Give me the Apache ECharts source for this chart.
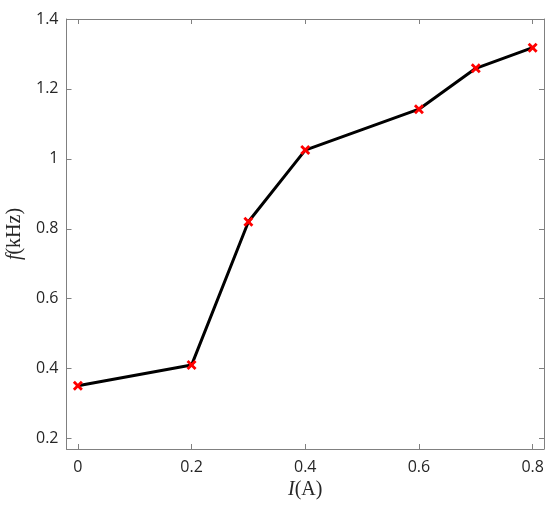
<!DOCTYPE html>
<html>
<head>
<meta charset="utf-8">
<script src="https://cdn.jsdelivr.net/npm/echarts@6/dist/echarts.min.js"></script>
<style>html,body{margin:0;padding:0;background:#fff}#c{width:555px;height:507px}</style>
</head>
<body>
<div id="c"></div>
<script>
const current = [0, 0.2, 0.3, 0.4, 0.6, 0.7, 0.8];
const freq = [0.351, 0.410, 0.820, 1.025, 1.142, 1.259, 1.318];
const xTicks = [0, 0.2, 0.4, 0.6, 0.8];
const yTicks = [0.2, 0.4, 0.6, 0.8, 1, 1.2, 1.4];
const xRange = [-0.02, 0.82];
const yRange = [0.17, 1.4];

const axisColor = '#808080';
const labelColor = '#262626';
const tickFont = 'Open Sans, Noto Sans, sans-serif';
const fmt = v => String(+v.toFixed(2));

const chart = echarts.init(document.getElementById('c'));
const xSource = current.map((x, i) => [x, freq[i]]);
const xMark = 'path://M2,0 L5,3 L8,0 L10,2 L7,5 L10,8 L8,10 L5,7 L2,10 L0,8 L3,5 L0,2 Z';

function xAx(pos, show) {
  return {
    type: 'value', position: pos, min: xRange[0], max: xRange[1],
    axisLine: { show: true, onZero: false, lineStyle: { color: axisColor, width: 1 } },
    axisTick: { show: true, inside: true, length: 5, customValues: xTicks, lineStyle: { color: axisColor } },
    axisLabel: { show: show, customValues: xTicks, formatter: fmt, color: labelColor, fontFamily: tickFont, fontSize: 16, margin: 10 },
    splitLine: { show: false },
    name: show ? '{i|I}(A)' : '',
    nameLocation: 'middle', nameGap: 30,
    nameTextStyle: { fontFamily: 'Liberation Serif, serif', fontSize: 20, color: labelColor,
      rich: { i: { fontStyle: 'italic', fontFamily: 'Liberation Serif, serif', fontSize: 20, color: labelColor } } }
  };
}
function yAx(pos, show) {
  return {
    type: 'value', position: pos, min: yRange[0], max: yRange[1],
    axisLine: { show: true, onZero: false, lineStyle: { color: axisColor, width: 1 } },
    axisTick: { show: true, inside: true, length: 5, customValues: yTicks, lineStyle: { color: axisColor } },
    axisLabel: { show: show, customValues: yTicks, formatter: fmt, color: labelColor, fontFamily: tickFont, fontSize: 16, margin: 8 },
    splitLine: { show: false },
    name: show ? '{i|f}(kHz)' : '',
    nameLocation: 'middle', nameGap: 38, nameRotate: 90,
    nameTextStyle: { fontFamily: 'Liberation Serif, serif', fontSize: 20, color: labelColor,
      rich: { i: { fontStyle: 'italic', fontFamily: 'Liberation Serif, serif', fontSize: 20, color: labelColor } } }
  };
}

chart.setOption({
  animation: false,
  backgroundColor: '#fff',
  grid: { left: 66.5, right: 11, top: 19, bottom: 58, containLabel: false, outerBoundsMode: 'none' },
  xAxis: [xAx('bottom', true), xAx('top', false)],
  yAxis: [yAx('left', true), yAx('right', false)],
  series: [{
    type: 'line',
    data: xSource,
    xAxisIndex: 0, yAxisIndex: 0,
    lineStyle: { color: '#000', width: 3 },
    symbol: xMark, symbolSize: 10,
    itemStyle: { color: '#ff0000' },
    z: 3
  }]
});
</script>
</body>
</html>
